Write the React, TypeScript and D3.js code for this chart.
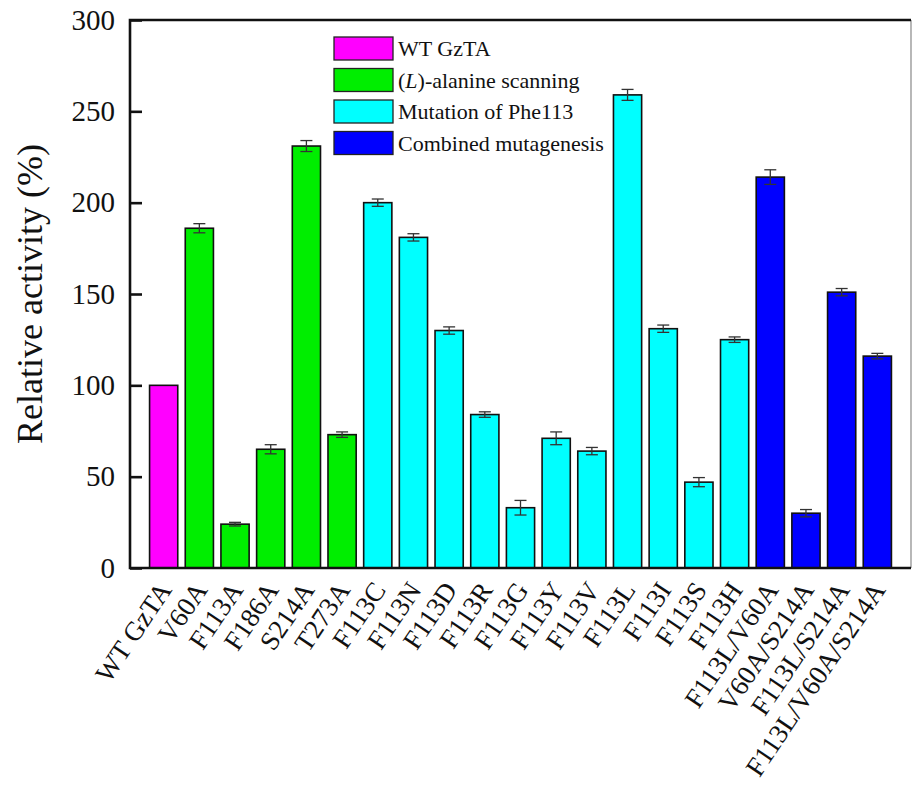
import * as d3 from 'd3';
import { useEffect, useRef } from 'react';

const categories = [
  'WT GzTA', 'V60A', 'F113A', 'F186A', 'S214A', 'T273A',
  'F113C', 'F113N', 'F113D', 'F113R', 'F113G', 'F113Y', 'F113V', 'F113L', 'F113I', 'F113S', 'F113H',
  'F113L/V60A', 'V60A/S214A', 'F113L/S214A', 'F113L/V60A/S214A',
];
const values = [100, 186, 24, 65, 231, 73, 200, 181, 130, 84, 33, 71, 64, 259, 131, 47, 125, 214, 30, 151, 116];
const errors = [0, 2.5, 1, 2.5, 3, 1.5, 2, 2, 2, 1.5, 4, 3.5, 2, 3, 2, 2.5, 1.5, 4, 2, 2, 1.5];
const groups = [0, 1, 1, 1, 1, 1, 2, 2, 2, 2, 2, 2, 2, 2, 2, 2, 2, 3, 3, 3, 3];
const groupNames = ['WT GzTA', '(L)-alanine scanning', 'Mutation of Phe113', 'Combined mutagenesis'];
const groupColors = ['#ff00ff', '#00ee00', '#00ffff', '#0000ff'];
const yTicks = [0, 50, 100, 150, 200, 250, 300];

export default function App() {
  const w = 912;
  const h = 789;
  const svgRef = useRef<SVGSVGElement>(null);

  useEffect(() => {
    document.body.style.margin = '0';
    if (svgRef.current == null) {
      return;
    }
    const svg = d3.select(svgRef.current);
    svg.selectAll('*').remove();
    const font = 'Times New Roman, Liberation Serif, serif';

    const left = 130;
    const right = 911;
    const top = 20;
    const bottom = 568;

    const xScale = d3.scaleBand<string>().domain(categories).range([146, 895]).paddingInner(0.21).paddingOuter(0.1);
    const yScale = d3.scaleLinear().domain([0, 300]).range([bottom, top]);

    svg.append('rect').attr('width', w).attr('height', h).attr('fill', 'white');

    // bars
    categories.forEach((c, i) => {
      const x = xScale(c) ?? 0;
      svg
        .append('rect')
        .attr('x', x)
        .attr('y', yScale(values[i]))
        .attr('width', xScale.bandwidth())
        .attr('height', yScale(0) - yScale(values[i]))
        .attr('fill', groupColors[groups[i]])
        .attr('stroke', '#111')
        .attr('stroke-width', 1.6);
      if (errors[i] > 0) {
        const cx = x + xScale.bandwidth() / 2;
        const y1 = yScale(values[i] + errors[i]);
        const y2 = yScale(values[i] - errors[i]);
        const g = svg.append('g').attr('stroke', '#333').attr('stroke-width', 1.3);
        g.append('line').attr('x1', cx).attr('x2', cx).attr('y1', y1).attr('y2', y2);
        g.append('line').attr('x1', cx - 6).attr('x2', cx + 6).attr('y1', y1).attr('y2', y1);
        g.append('line').attr('x1', cx - 6).attr('x2', cx + 6).attr('y1', y2).attr('y2', y2);
      }
    });

    // frame
    svg.append('line').attr('x1', right).attr('x2', right).attr('y1', top).attr('y2', bottom)
      .attr('stroke', '#888').attr('stroke-width', 1.2);
    svg.append('path')
      .attr('d', `M${right},${top}H${left}V${bottom}H${right}`)
      .attr('fill', 'none')
      .attr('stroke', '#111')
      .attr('stroke-width', 2.6);

    // y axis ticks (inward)
    const yAxis = d3.axisLeft(yScale).tickValues(yTicks).tickSizeInner(-12).tickSizeOuter(0).tickPadding(15);
    const ga = svg.append('g').attr('transform', `translate(${left},0)`).call(yAxis);
    ga.select('.domain').remove();
    ga.selectAll('.tick line').attr('stroke', '#111').attr('stroke-width', 2.6);
    ga.selectAll('.tick text').attr('font-family', font).attr('font-size', 29).attr('fill', '#111');

    svg
      .append('text')
      .attr('transform', `translate(42, ${(top + bottom) / 2}) rotate(-90)`)
      .attr('text-anchor', 'middle')
      .attr('font-family', font)
      .attr('font-size', 36)
      .attr('fill', '#111')
      .text('Relative activity (%)');

    // x labels
    categories.forEach((c) => {
      const cx = (xScale(c) ?? 0) + xScale.bandwidth() / 2 + 9;
      svg
        .append('text')
        .attr('transform', `translate(${cx}, ${bottom + 22}) rotate(-56)`)
        .attr('text-anchor', 'end')
        .attr('font-family', font)
        .attr('font-size', 27)
        .attr('fill', '#111')
        .text(c);
    });

    // legend
    groupNames.forEach((name, i) => {
      const y = 37 + i * 31.5;
      svg
        .append('rect')
        .attr('x', 334)
        .attr('y', y)
        .attr('width', 59)
        .attr('height', 23)
        .attr('fill', groupColors[i])
        .attr('stroke', '#222')
        .attr('stroke-width', 1.3);
      const t = svg
        .append('text')
        .attr('x', 398)
        .attr('y', y + 19)
        .attr('font-family', font)
        .attr('font-size', 22)
        .attr('fill', '#111');
      if (i === 1) {
        t.append('tspan').text('(');
        t.append('tspan').attr('font-style', 'italic').text('L');
        t.append('tspan').text(')-alanine scanning');
      } else {
        t.text(name);
      }
    });
  }, []);

  return <svg ref={svgRef} width={w} height={h} style={{ display: 'block' }}></svg>;
}
